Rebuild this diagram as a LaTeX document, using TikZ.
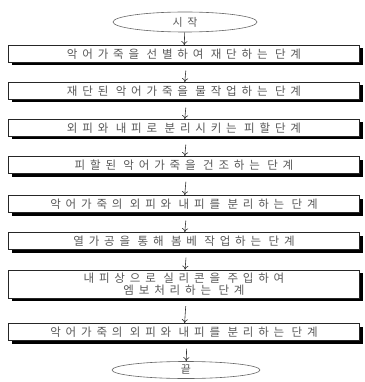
\documentclass[tikz,border=0pt]{standalone}
\usepackage{fontspec}
\newfontfamily\kr[LetterSpace=42]{Noto Sans CJK KR}
\usetikzlibrary{arrows.meta,shapes.geometric}
\begin{document}
\begin{tikzpicture}[x=1pt,y=-1pt,
  stepbox/.style={draw=black!85, line width=0.6pt, fill=white, minimum width=351pt,
    minimum height=17pt, inner sep=0pt, font=\kr\fontsize{11.5}{12.5}\selectfont,
    text=black!65, align=center},
  shadowbox/.style={fill=black, minimum width=351pt, minimum height=17pt, inner sep=0pt},
  term/.style={ellipse, draw=black!60, line width=0.6pt, fill=white, minimum width=144pt,
    minimum height=20pt, inner sep=0pt, font=\kr\fontsize{11}{12}\selectfont, text=black!65},
  flow/.style={draw=black!80, line width=0.6pt, -{To[length=4pt,width=6pt]}, shorten <=5pt}]
\useasboundingbox (0,0) rectangle (364,382);
\foreach \yy/\nm in {54/h1,91/h2,128/h3,165/h4,204/h5,241/h6,332/h8}
  \node[shadowbox] (\nm) at (187,\yy+3) {};
\node[shadowbox, minimum height=28pt] (h7) at (187,287) {};
\node[term] (s) at (185,22) {시작};
\node[stepbox] (b1) at (184,54) {악어가죽을 선별하여 재단하는 단계};
\node[stepbox] (b2) at (184,91) {재단된 악어가죽을 물작업하는 단계};
\node[stepbox] (b3) at (184,128) {외피와 내피로 분리시키는 피할단계};
\node[stepbox] (b4) at (184,165) {피할된 악어가죽을 건조하는 단계};
\node[stepbox] (b5) at (184,204) {악어가죽의 외피와 내피를 분리하는 단계};
\node[stepbox] (b6) at (184,241) {열가공을 통해 봄베 작업하는 단계};
\node[stepbox, minimum height=28pt, font=\kr\fontsize{11.5}{11.5}\selectfont] (b7) at (184,284) {내피상으로 실리콘을 주입하여\\엠보처리하는 단계};
\node[stepbox] (b8) at (184,332) {악어가죽의 외피와 내피를 분리하는 단계};
\node[term, minimum height=17pt, minimum width=148pt] (e) at (186,370) {끝};
\draw[flow, shorten <=0pt] (s) -- (b1);
\draw[flow] (h1) -- (b2);
\draw[flow] (h2) -- (b3);
\draw[flow] (h3) -- (b4);
\draw[flow] (h4) -- (b5);
\draw[flow] (h5) -- (b6);
\draw[flow] (h6) -- (b7);
\draw[flow] (h7) -- (b8);
\draw[flow] (h8) -- (e);
\end{tikzpicture}
\end{document}
